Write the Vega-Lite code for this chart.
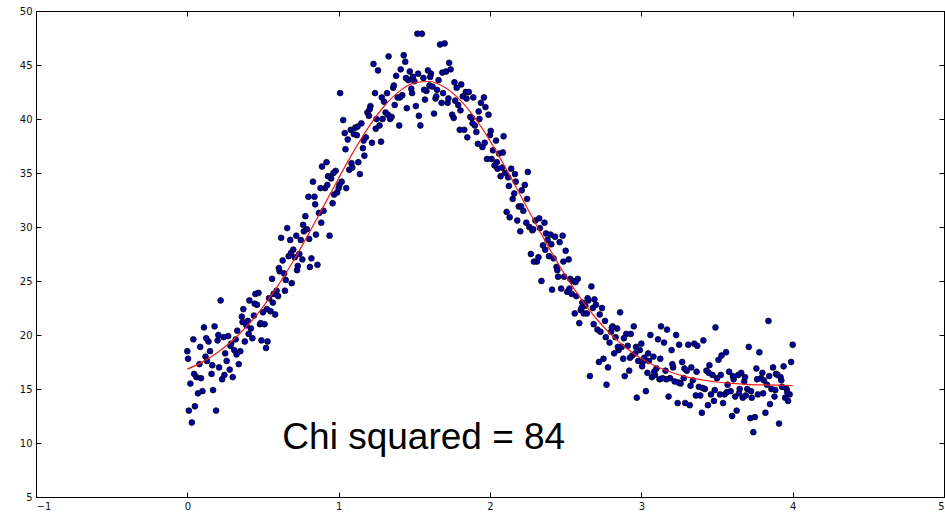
{
 "$schema": "https://vega.github.io/schema/vega-lite/v6.json",
 "width": 908, "height": 486,
 "autosize": {"type": "none"},
 "padding": {"left": 36, "top": 11, "right": 1, "bottom": 16},
 "background": "white",
 "config": {
  "view": {"stroke": "black", "strokeWidth": 1},
  "axis": {"grid": false, "domainColor": "black", "domainWidth": 1, "tickColor": "black", "tickWidth": 1, "labelColor": "#111111", "labelFont": "DejaVu Sans", "labelFontSize": 10, "tickSize": -5, "title": null}
 },
 "datasets": {
  "points": [
   {"x":0.00,"y":18.5},{"x":0.01,"y":13.0},{"x":0.02,"y":15.5},{"x":0.03,"y":11.9},{"x":0.04,"y":19.6},{"x":0.05,"y":13.4},{"x":0.06,"y":16.1},{"x":0.07,"y":14.6},{"x":0.08,"y":17.3},{"x":0.09,"y":16.0},
   {"x":0.10,"y":14.8},{"x":0.11,"y":20.7},{"x":0.12,"y":18.0},{"x":0.13,"y":17.6},{"x":0.14,"y":19.4},{"x":0.15,"y":18.5},{"x":0.16,"y":16.4},{"x":0.17,"y":14.9},{"x":0.18,"y":20.8},{"x":0.19,"y":13.0},
   {"x":0.20,"y":19.5},{"x":0.21,"y":17.0},{"x":0.22,"y":23.2},{"x":0.23,"y":15.9},{"x":0.24,"y":19.8},{"x":0.25,"y":18.3},{"x":0.26,"y":17.6},{"x":0.27,"y":19.9},{"x":0.28,"y":16.8},{"x":0.29,"y":19.2},
   {"x":0.30,"y":16.1},{"x":0.31,"y":18.6},{"x":0.32,"y":19.6},{"x":0.33,"y":20.4},{"x":0.34,"y":17.3},{"x":0.35,"y":18.5},{"x":0.36,"y":21.7},{"x":0.37,"y":22.4},{"x":0.38,"y":19.4},{"x":0.39,"y":20.9},
   {"x":0.40,"y":21.3},{"x":0.41,"y":23.2},{"x":0.42,"y":20.6},{"x":0.43,"y":19.7},{"x":0.44,"y":21.8},{"x":0.45,"y":23.8},{"x":0.46,"y":22.8},{"x":0.47,"y":23.9},{"x":0.48,"y":21.0},{"x":0.49,"y":19.5},
   {"x":0.50,"y":22.1},{"x":0.51,"y":21.0},{"x":0.52,"y":18.8},{"x":0.53,"y":19.4},{"x":0.54,"y":23.4},{"x":0.55,"y":22.2},{"x":0.56,"y":25.2},{"x":0.57,"y":23.8},{"x":0.58,"y":21.9},{"x":0.59,"y":24.1},
   {"x":0.60,"y":23.6},{"x":0.61,"y":25.9},{"x":0.62,"y":29.0},{"x":0.63,"y":26.9},{"x":0.64,"y":25.7},{"x":0.65,"y":25.1},{"x":0.66,"y":29.9},{"x":0.67,"y":27.3},{"x":0.68,"y":28.8},{"x":0.69,"y":24.8},
   {"x":0.70,"y":27.9},{"x":0.71,"y":27.2},{"x":0.72,"y":29.2},{"x":0.73,"y":26.4},{"x":0.74,"y":27.5},{"x":0.75,"y":28.8},{"x":0.76,"y":27.0},{"x":0.77,"y":29.6},{"x":0.78,"y":31.0},{"x":0.79,"y":29.8},
   {"x":0.80,"y":32.8},{"x":0.81,"y":26.3},{"x":0.82,"y":27.1},{"x":0.83,"y":34.2},{"x":0.84,"y":32.8},{"x":0.85,"y":29.3},{"x":0.86,"y":26.5},{"x":0.87,"y":31.3},{"x":0.88,"y":33.6},{"x":0.89,"y":35.6},
   {"x":0.90,"y":31.5},{"x":0.91,"y":33.6},{"x":0.92,"y":36.0},{"x":0.93,"y":34.7},{"x":0.94,"y":29.2},{"x":0.95,"y":34.5},{"x":0.96,"y":32.2},{"x":0.97,"y":33.0},{"x":0.98,"y":35.2},{"x":0.99,"y":33.2},
   {"x":1.00,"y":33.6},{"x":1.01,"y":42.4},{"x":1.02,"y":34.2},{"x":1.03,"y":39.9},{"x":1.04,"y":38.7},{"x":1.05,"y":33.6},{"x":1.06,"y":38.1},{"x":1.07,"y":35.3},{"x":1.08,"y":39.0},{"x":1.09,"y":35.5},
   {"x":1.10,"y":38.6},{"x":1.11,"y":39.2},{"x":1.12,"y":38.5},{"x":1.13,"y":36.0},{"x":1.14,"y":34.9},{"x":1.15,"y":39.6},{"x":1.16,"y":37.3},{"x":1.17,"y":36.6},{"x":1.18,"y":38.3},{"x":1.19,"y":40.6},
   {"x":1.20,"y":40.3},{"x":1.21,"y":41.2},{"x":1.22,"y":37.8},{"x":1.23,"y":45.1},{"x":1.24,"y":42.4},{"x":1.25,"y":40.0},{"x":1.26,"y":44.5},{"x":1.27,"y":39.4},{"x":1.28,"y":37.9},{"x":1.29,"y":40.0},
   {"x":1.30,"y":41.6},{"x":1.31,"y":40.6},{"x":1.32,"y":42.4},{"x":1.33,"y":45.8},{"x":1.34,"y":40.0},{"x":1.35,"y":40.2},{"x":1.36,"y":42.9},{"x":1.37,"y":41.3},{"x":1.38,"y":44.0},{"x":1.39,"y":42.0},
   {"x":1.40,"y":39.4},{"x":1.41,"y":44.6},{"x":1.42,"y":42.2},{"x":1.43,"y":45.9},{"x":1.44,"y":45.3},{"x":1.45,"y":41.0},{"x":1.46,"y":43.6},{"x":1.47,"y":44.4},{"x":1.48,"y":42.8},{"x":1.49,"y":43.9},
   {"x":1.50,"y":43.5},{"x":1.51,"y":41.2},{"x":1.52,"y":47.9},{"x":1.53,"y":40.3},{"x":1.54,"y":39.4},{"x":1.55,"y":47.9},{"x":1.56,"y":43.8},{"x":1.57,"y":41.8},{"x":1.58,"y":42.6},{"x":1.59,"y":44.5},
   {"x":1.60,"y":43.1},{"x":1.61,"y":44.2},{"x":1.62,"y":43.0},{"x":1.63,"y":40.5},{"x":1.64,"y":41.9},{"x":1.65,"y":42.7},{"x":1.66,"y":43.6},{"x":1.67,"y":46.9},{"x":1.68,"y":41.5},{"x":1.69,"y":42.4},
   {"x":1.70,"y":47.0},{"x":1.71,"y":44.4},{"x":1.72,"y":41.5},{"x":1.73,"y":45.2},{"x":1.74,"y":44.6},{"x":1.75,"y":40.4},{"x":1.76,"y":40.1},{"x":1.77,"y":41.7},{"x":1.78,"y":42.9},{"x":1.79,"y":41.3},
   {"x":1.80,"y":39.0},{"x":1.81,"y":43.2},{"x":1.82,"y":42.1},{"x":1.83,"y":39.0},{"x":1.84,"y":42.5},{"x":1.85,"y":38.3},{"x":1.86,"y":42.5},{"x":1.87,"y":40.2},{"x":1.88,"y":40.1},{"x":1.89,"y":42.0},
   {"x":1.90,"y":39.4},{"x":1.91,"y":38.8},{"x":1.92,"y":37.7},{"x":1.93,"y":40.0},{"x":1.94,"y":41.5},{"x":1.95,"y":37.4},{"x":1.96,"y":42.0},{"x":1.97,"y":41.1},{"x":1.98,"y":36.3},{"x":1.99,"y":40.4},
   {"x":2.00,"y":38.5},{"x":2.01,"y":36.3},{"x":2.02,"y":37.1},{"x":2.03,"y":35.7},{"x":2.04,"y":38.0},{"x":2.05,"y":35.4},{"x":2.06,"y":36.8},{"x":2.07,"y":34.7},{"x":2.08,"y":35.5},{"x":2.09,"y":38.4},
   {"x":2.10,"y":35.0},{"x":2.11,"y":31.4},{"x":2.12,"y":34.6},{"x":2.13,"y":30.9},{"x":2.14,"y":35.4},{"x":2.15,"y":32.6},{"x":2.16,"y":33.1},{"x":2.17,"y":34.2},{"x":2.18,"y":30.6},{"x":2.19,"y":31.9},
   {"x":2.20,"y":29.6},{"x":2.21,"y":33.4},{"x":2.22,"y":31.5},{"x":2.23,"y":33.9},{"x":2.24,"y":30.4},{"x":2.25,"y":35.1},{"x":2.26,"y":30.0},{"x":2.27,"y":27.5},{"x":2.28,"y":29.7},{"x":2.29,"y":26.8},
   {"x":2.30,"y":30.6},{"x":2.31,"y":26.8},{"x":2.32,"y":27.2},{"x":2.33,"y":29.9},{"x":2.34,"y":25.0},{"x":2.35,"y":28.3},{"x":2.36,"y":30.4},{"x":2.37,"y":29.4},{"x":2.38,"y":28.8},{"x":2.39,"y":27.3},
   {"x":2.40,"y":29.3},{"x":2.41,"y":24.2},{"x":2.42,"y":27.1},{"x":2.43,"y":29.1},{"x":2.44,"y":26.3},{"x":2.45,"y":25.4},{"x":2.46,"y":28.6},{"x":2.47,"y":24.3},{"x":2.48,"y":29.2},{"x":2.49,"y":25.4},
   {"x":2.50,"y":27.8},{"x":2.51,"y":24.0},{"x":2.52,"y":27.0},{"x":2.53,"y":25.2},{"x":2.54,"y":23.8},{"x":2.55,"y":25.0},{"x":2.56,"y":22.0},{"x":2.57,"y":23.6},{"x":2.58,"y":25.2},{"x":2.59,"y":21.1},
   {"x":2.60,"y":22.3},{"x":2.61,"y":23.0},{"x":2.62,"y":22.0},{"x":2.63,"y":22.7},{"x":2.64,"y":22.0},{"x":2.65,"y":23.2},{"x":2.66,"y":16.2},{"x":2.67,"y":24.5},{"x":2.68,"y":22.5},{"x":2.69,"y":23.3},
   {"x":2.70,"y":22.8},{"x":2.71,"y":20.5},{"x":2.72,"y":17.5},{"x":2.73,"y":20.3},{"x":2.74,"y":22.5},{"x":2.75,"y":17.8},{"x":2.76,"y":21.3},{"x":2.77,"y":15.4},{"x":2.78,"y":17.0},{"x":2.79,"y":19.3},
   {"x":2.80,"y":20.3},{"x":2.81,"y":20.8},{"x":2.82,"y":18.3},{"x":2.83,"y":19.8},{"x":2.84,"y":20.6},{"x":2.85,"y":18.6},{"x":2.86,"y":22.1},{"x":2.87,"y":18.9},{"x":2.88,"y":17.8},{"x":2.89,"y":16.2},
   {"x":2.90,"y":20.1},{"x":2.91,"y":19.0},{"x":2.92,"y":16.7},{"x":2.93,"y":20.1},{"x":2.94,"y":18.1},{"x":2.95,"y":20.8},{"x":2.96,"y":18.3},{"x":2.97,"y":14.2},{"x":2.98,"y":17.6},{"x":2.99,"y":18.6},
   {"x":3.00,"y":19.2},{"x":3.01,"y":17.5},{"x":3.02,"y":17.9},{"x":3.03,"y":14.8},{"x":3.04,"y":16.5},{"x":3.05,"y":17.6},{"x":3.06,"y":20.0},{"x":3.07,"y":16.1},{"x":3.08,"y":18.0},{"x":3.09,"y":16.3},
   {"x":3.10,"y":16.9},{"x":3.11,"y":19.6},{"x":3.12,"y":15.9},{"x":3.13,"y":20.8},{"x":3.14,"y":16.0},{"x":3.15,"y":19.3},{"x":3.16,"y":16.7},{"x":3.17,"y":20.5},{"x":3.18,"y":14.3},{"x":3.19,"y":16.0},
   {"x":3.20,"y":18.6},{"x":3.21,"y":17.0},{"x":3.22,"y":15.7},{"x":3.23,"y":20.0},{"x":3.24,"y":13.7},{"x":3.25,"y":19.1},{"x":3.26,"y":15.5},{"x":3.27,"y":17.5},{"x":3.28,"y":16.0},{"x":3.29,"y":13.7},
   {"x":3.30,"y":16.7},{"x":3.31,"y":19.1},{"x":3.32,"y":13.5},{"x":3.33,"y":17.0},{"x":3.34,"y":15.8},{"x":3.35,"y":19.2},{"x":3.36,"y":14.4},{"x":3.37,"y":19.0},{"x":3.38,"y":15.2},{"x":3.39,"y":14.4},
   {"x":3.40,"y":12.8},{"x":3.41,"y":19.5},{"x":3.42,"y":15.0},{"x":3.43,"y":16.7},{"x":3.44,"y":13.5},{"x":3.45,"y":17.2},{"x":3.46,"y":14.5},{"x":3.47,"y":16.3},{"x":3.48,"y":13.9},{"x":3.49,"y":20.7},
   {"x":3.50,"y":16.0},{"x":3.51,"y":17.7},{"x":3.52,"y":14.5},{"x":3.53,"y":18.1},{"x":3.54,"y":13.7},{"x":3.55,"y":14.5},{"x":3.56,"y":18.4},{"x":3.57,"y":15.4},{"x":3.58,"y":16.6},{"x":3.59,"y":14.8},
   {"x":3.60,"y":12.5},{"x":3.61,"y":15.9},{"x":3.62,"y":14.3},{"x":3.63,"y":13.0},{"x":3.64,"y":16.3},{"x":3.65,"y":15.0},{"x":3.66,"y":16.5},{"x":3.67,"y":14.2},{"x":3.68,"y":15.7},{"x":3.69,"y":14.4},
   {"x":3.70,"y":15.0},{"x":3.71,"y":18.9},{"x":3.72,"y":12.3},{"x":3.73,"y":14.2},{"x":3.74,"y":11.0},{"x":3.75,"y":12.4},{"x":3.76,"y":16.9},{"x":3.77,"y":14.5},{"x":3.78,"y":18.4},{"x":3.79,"y":16.0},
   {"x":3.80,"y":16.5},{"x":3.81,"y":15.8},{"x":3.82,"y":12.8},{"x":3.83,"y":15.4},{"x":3.84,"y":21.3},{"x":3.85,"y":13.6},{"x":3.86,"y":15.0},{"x":3.87,"y":17.0},{"x":3.88,"y":14.3},{"x":3.89,"y":16.4},
   {"x":3.90,"y":16.3},{"x":3.91,"y":11.8},{"x":3.92,"y":16.1},{"x":3.93,"y":15.2},{"x":3.94,"y":17.1},{"x":3.95,"y":14.2},{"x":3.96,"y":15.0},{"x":3.97,"y":13.9},{"x":3.98,"y":14.5},{"x":3.99,"y":17.5},
   {"x":4.00,"y":19.1},
   {"x":0.005,"y":17.8},{"x":0.045,"y":16.4},{"x":0.085,"y":18.9},{"x":0.125,"y":19.7},{"x":0.165,"y":17.2},{"x":0.205,"y":20.0},{"x":0.245,"y":16.3},{"x":0.285,"y":19.0},{"x":0.325,"y":18.2},{"x":0.365,"y":21.2},
   {"x":0.405,"y":20.1},{"x":0.445,"y":22.9},{"x":0.485,"y":21.1},{"x":0.525,"y":22.4},{"x":0.565,"y":23.0},{"x":0.605,"y":26.2},{"x":0.645,"y":24.1},{"x":0.685,"y":27.6},{"x":0.725,"y":26.0},{"x":0.765,"y":30.2},
   {"x":0.805,"y":28.9},{"x":0.845,"y":32.1},{"x":0.885,"y":30.4},{"x":0.925,"y":33.9},{"x":0.965,"y":35.0},{"x":1.005,"y":33.9},{"x":1.045,"y":37.2},{"x":1.085,"y":35.9},{"x":1.125,"y":39.3},{"x":1.165,"y":38.0},
   {"x":1.205,"y":40.9},{"x":1.245,"y":39.1},{"x":1.285,"y":42.0},{"x":1.325,"y":40.4},{"x":1.365,"y":43.1},{"x":1.405,"y":42.0},{"x":1.445,"y":43.8},{"x":1.485,"y":42.4},{"x":1.525,"y":44.2},{"x":1.565,"y":42.7},
   {"x":1.605,"y":43.9},{"x":1.645,"y":42.1},{"x":1.685,"y":44.3},{"x":1.725,"y":41.9},{"x":1.765,"y":43.4},{"x":1.805,"y":40.8},{"x":1.845,"y":41.9},{"x":1.885,"y":39.6},{"x":1.925,"y":40.7},{"x":1.965,"y":37.8},
   {"x":2.005,"y":38.9},{"x":2.045,"y":36.0},{"x":2.085,"y":36.9},{"x":2.125,"y":33.8},{"x":2.165,"y":34.9},{"x":2.205,"y":31.9},{"x":2.245,"y":32.6},{"x":2.285,"y":29.8},{"x":2.325,"y":30.8},{"x":2.365,"y":27.9},
   {"x":2.405,"y":28.4},{"x":2.445,"y":26.0},{"x":2.485,"y":26.8},{"x":2.525,"y":24.3},{"x":2.565,"y":24.9},{"x":2.605,"y":22.5},{"x":2.645,"y":23.4},{"x":2.685,"y":21.0},{"x":2.725,"y":21.9},{"x":2.765,"y":19.8},
   {"x":2.805,"y":20.7},{"x":2.845,"y":18.9},{"x":2.885,"y":19.7},{"x":2.925,"y":17.9},{"x":2.965,"y":18.9},{"x":3.005,"y":17.1},{"x":3.045,"y":18.3},{"x":3.085,"y":16.6},{"x":3.125,"y":17.8},{"x":3.165,"y":15.9},
   {"x":3.205,"y":17.3},{"x":3.245,"y":15.6},{"x":3.285,"y":16.9},{"x":3.325,"y":15.3},{"x":3.365,"y":16.6},{"x":3.405,"y":15.1},{"x":3.445,"y":16.5},{"x":3.485,"y":14.9},{"x":3.525,"y":16.3},{"x":3.565,"y":14.7},
   {"x":3.605,"y":16.2},{"x":3.645,"y":14.6},{"x":3.685,"y":16.1},{"x":3.725,"y":14.8},{"x":3.765,"y":15.9},{"x":3.805,"y":14.6},{"x":3.845,"y":16.2},{"x":3.885,"y":14.9},{"x":3.925,"y":15.8},{"x":3.965,"y":14.7}
  ],
  "fit": [
   {"x":0.0,"y":16.84},{"x":0.1,"y":17.51},{"x":0.2,"y":18.38},{"x":0.3,"y":19.51},{"x":0.4,"y":20.91},{"x":0.5,"y":22.61},{"x":0.6,"y":24.60},{"x":0.7,"y":26.85},{"x":0.8,"y":29.32},{"x":0.9,"y":31.91},
   {"x":1.0,"y":34.52},{"x":1.1,"y":37.03},{"x":1.2,"y":39.30},{"x":1.3,"y":41.18},{"x":1.4,"y":42.56},{"x":1.5,"y":43.34},{"x":1.6,"y":43.47},{"x":1.7,"y":42.94},{"x":1.8,"y":41.79},{"x":1.9,"y":40.10},
   {"x":2.0,"y":37.98},{"x":2.1,"y":35.55},{"x":2.2,"y":32.96},{"x":2.3,"y":30.34},{"x":2.4,"y":27.82},{"x":2.5,"y":25.47},{"x":2.6,"y":23.37},{"x":2.7,"y":21.55},{"x":2.8,"y":20.04},{"x":2.9,"y":18.80},
   {"x":3.0,"y":17.83},{"x":3.1,"y":17.08},{"x":3.2,"y":16.53},{"x":3.3,"y":16.13},{"x":3.4,"y":15.84},{"x":3.5,"y":15.65},{"x":3.6,"y":15.52},{"x":3.7,"y":15.43},{"x":3.8,"y":15.38},{"x":3.9,"y":15.35},
   {"x":4.0,"y":15.32}
  ],
  "note": [{"label": "Chi squared = 84", "x": 0.628, "y": 9.4}]
 },
 "layer": [
  {
   "data": {"name": "points"},
   "mark": {"type": "point", "shape": "circle", "filled": true, "size": 34, "fill": "#0000a0", "stroke": "black", "strokeWidth": 0.7, "opacity": 1},
   "encoding": {
    "x": {"field": "x", "type": "quantitative", "scale": {"domain": [-1, 5], "nice": false, "zero": false}, "axis": {"orient": "bottom", "values": [-1, 0, 1, 2, 3, 4, 5], "labelPadding": 9}},
    "y": {"field": "y", "type": "quantitative", "scale": {"domain": [5, 50], "nice": false, "zero": false}, "axis": {"orient": "left", "values": [5, 10, 15, 20, 25, 30, 35, 40, 45, 50], "labelPadding": 9}}
   }
  },
  {
   "data": {"name": "fit"},
   "mark": {"type": "line", "color": "#f01c1c", "strokeWidth": 1.2, "interpolate": "monotone"},
   "encoding": {
    "x": {"field": "x", "type": "quantitative", "axis": {"orient": "top", "values": [-1, 0, 1, 2, 3, 4, 5], "labels": false}},
    "y": {"field": "y", "type": "quantitative", "axis": {"orient": "right", "values": [5, 10, 15, 20, 25, 30, 35, 40, 45, 50], "labels": false}}
   }
  },
  {
   "data": {"name": "note"},
   "mark": {"type": "text", "align": "left", "baseline": "alphabetic", "font": "Liberation Sans", "fontSize": 37, "color": "black"},
   "encoding": {
    "x": {"field": "x", "type": "quantitative", "axis": null},
    "y": {"field": "y", "type": "quantitative", "axis": null},
    "text": {"field": "label"}
   }
  }
 ],
 "resolve": {"axis": {"x": "independent", "y": "independent"}}
}
